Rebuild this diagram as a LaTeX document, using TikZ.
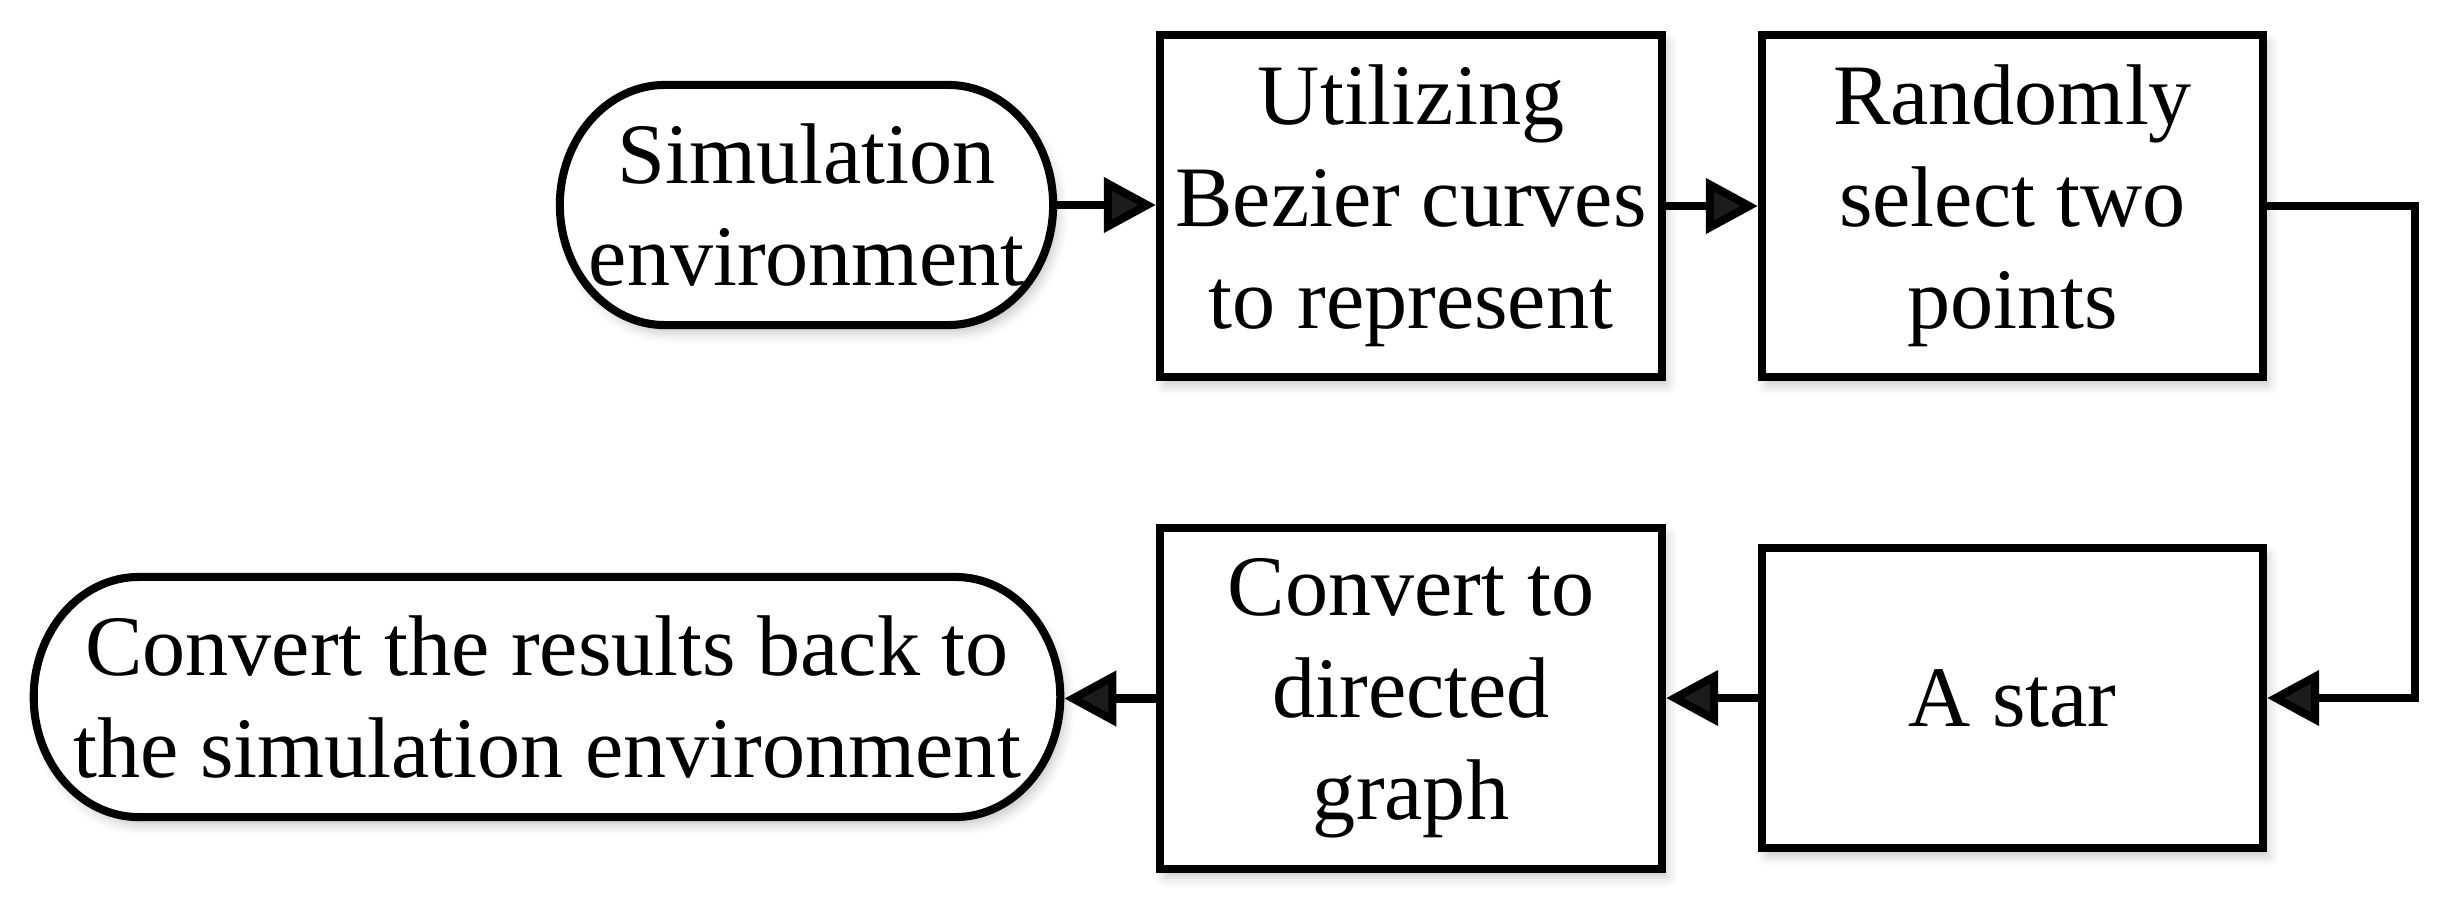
\documentclass[tikz,border=0pt]{standalone}
\usepackage{fontspec}
\setmainfont{Liberation Serif}
\usetikzlibrary{arrows.meta,shadows.blur}
\begin{document}
\begin{tikzpicture}[x=0.01cm,y=-0.01cm,
  lw/.style={line width=2.3pt},
  shd/.style={blur shadow={shadow xshift=0.05cm, shadow yshift=-0.08cm, shadow blur radius=0.1cm, shadow opacity=22}},
  txt/.style={align=center, inner sep=0pt, font=\fontsize{24.5pt}{29pt}\selectfont},
  boxnode/.style={txt, rectangle, draw, lw, fill=white, shd, minimum width=5.02cm},
  termframe/.style={rectangle, draw=none, inner sep=0pt, outer sep=0pt, minimum height=2.4cm},
  arr/.style={lw, -{Triangle[length=0.52cm, width=0.54cm]}}
]
\useasboundingbox (0,0) rectangle (2448,914);

% terminator frames
\node[termframe, minimum width=4.93cm] (s1) at (806.5,205) {};
\node[termframe, minimum width=10.26cm] (s6) at (547,697) {};

\foreach \n in {s1,s6}{
  \draw[lw, fill=white, shd]
    ([xshift=1.05cm]\n.north west) -- ([xshift=-1.05cm]\n.north east)
    arc[start angle=90, end angle=-90, x radius=1.05cm, y radius=1.2cm]
    -- ([xshift=1.05cm]\n.south west)
    arc[start angle=270, end angle=90, x radius=1.05cm, y radius=1.2cm]
    -- cycle;
}
\node[txt] (s1t) at (s1.center) {Simulation\\environment};
\node[txt] (s6t) at (s6.center) {Convert the results back to\\the simulation environment};

% process boxes
\node[boxnode, minimum height=3.42cm] (b2) at (1411,206) {Utilizing\\Bezier curves\\to represent};
\node[boxnode, minimum height=3.42cm, minimum width=5.01cm] (b3) at (2012.5,206) {Randomly\\select two\\points};
\node[boxnode, minimum height=3.00cm, minimum width=5.01cm] (b4) at (2012.5,698) {A star};
\node[boxnode, minimum height=3.41cm] (b5) at (1411,698.5) {Convert to\\directed\\graph};

\coordinate (c1) at (2415,206);

% connectors
\draw[arr, shorten <=1.15pt] (s1.east) -- (s1.east -| b2.west);
\draw[arr] (b2.east) -- (b2.east -| b3.west);
\draw[arr] (b3.east) -- (b3.east -| c1) |- (b4.east);
\draw[arr] (b4.west) -- (b4.west -| b5.east);
\draw[arr, shorten >=1.15pt] (b5.west) -- (b5.west -| s6.east);
\end{tikzpicture}
\end{document}
